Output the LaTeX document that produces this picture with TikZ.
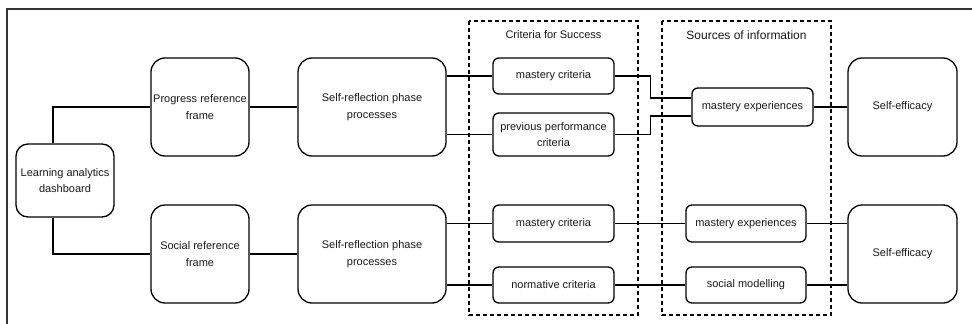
\documentclass[tikz,border=0pt]{standalone}
\usepackage{fontspec}
\setmainfont{Liberation Sans}
\begin{document}
\begin{tikzpicture}[x=1pt,y=-1pt,
  txt/.style={font=\fontsize{11}{16.5}\selectfont, align=center, text=black!90},
  bigbox/.style={txt, draw, line width=1.3pt, rectangle, rounded corners=14pt, inner sep=0pt,
    minimum height=98pt},
  smallbox/.style={txt, draw, line width=1.3pt, rectangle, rounded corners=6pt, inner sep=0pt,
    minimum width=121pt},
  link/.style={line width=1.3pt},
  group/.style={draw, line width=1.2pt, dash pattern=on 4pt off 3pt},
  header/.style={txt}
]
\useasboundingbox (0,0) rectangle (972,324);
% outer frame (top and left edges)
\draw[line width=1.2pt, black!80] (972,9) -- (7,9) -- (7,324);

% dashed groups
\draw[group] (469,21) rectangle (638,315);
\draw[group] (662,21) rectangle (831,315);
\node[header] (hcrit) at (553.5,35) {Criteria for Success};
\node[header, font=\fontsize{12}{16}\selectfont] (hsrc) at (746.5,35) {Sources of information};

% boxes
\node[bigbox, minimum width=98pt, minimum height=73pt, rounded corners=12pt] (dash) at (65,180.5) {Learning analytics\\dashboard};
\node[bigbox, minimum width=98pt] (prog) at (200,107) {Progress reference\\frame};
\node[bigbox, minimum width=98pt] (soc) at (200,254) {Social reference\\frame};
\node[bigbox, minimum width=148pt] (srp1) at (372,107) {Self-reflection phase\\processes};
\node[bigbox, minimum width=148pt] (srp2) at (372,254) {Self-reflection phase\\processes};

\node[smallbox, minimum height=36pt] (mc1) at (553.5,76) {mastery criteria};
\node[smallbox, minimum height=43pt] (ppc) at (553.5,134.5) {previous performance\\criteria};
\node[smallbox, minimum height=37pt] (mc2) at (553.5,223.5) {mastery criteria};
\node[smallbox, minimum height=36pt] (nc) at (553.5,285) {normative criteria};

\node[smallbox, minimum height=38pt] (me1) at (752.5,107) {mastery experiences};
\node[smallbox, minimum width=120pt, minimum height=37pt] (me2) at (746,223.5) {mastery experiences};
\node[smallbox, minimum width=120pt, minimum height=36pt] (sm) at (746,285) {social modelling};

\node[bigbox, minimum width=109pt] (se1) at (902.5,107) {Self-efficacy};
\node[bigbox, minimum width=109pt] (se2) at (902.5,254) {Self-efficacy};

% connectors
\draw[link] ([xshift=-12pt]dash.north) |- (prog.west);
\draw[link] ([xshift=-12pt]dash.south) |- (soc.west);
\draw[link] (prog.east) -- (srp1.west);
\draw[link] (soc.east) -- (srp2.west);

\draw[link] (srp1.east |- mc1) -- (mc1.west);
\draw[link] (srp1.east |- ppc) -- (ppc.west);
\draw[link] (srp2.east |- mc2) -- (mc2.west);
\draw[link] (srp2.east |- nc) -- (nc.west);

\draw[link] (mc1.east) -- ++(36,0) |- ([yshift=9pt]me1.west);
\draw[link] (ppc.east) -- ++(36,0) |- ([yshift=-9pt]me1.west);
\draw[link] (mc2.east) -- (me2.west);
\draw[link] (nc.east) -- (sm.west);

\draw[link] (me1.east) -- (se1.west);
\draw[link] (me2.east) -- (me2.east -| se2.west);
\draw[link] (sm.east) -- (sm.east -| se2.west);
\end{tikzpicture}
\end{document}
